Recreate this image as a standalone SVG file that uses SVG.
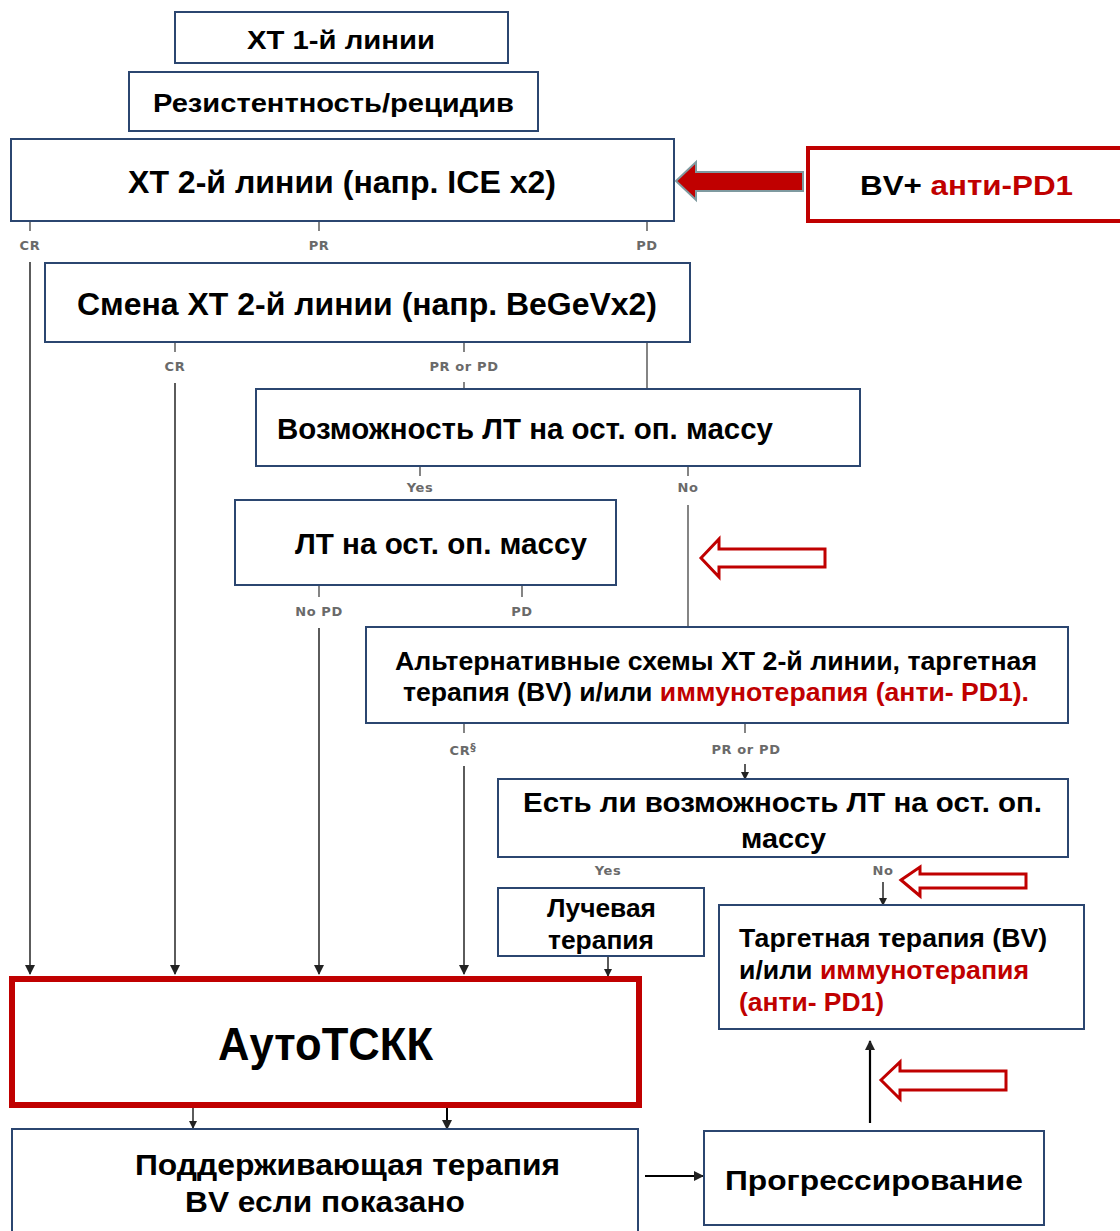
<svg xmlns="http://www.w3.org/2000/svg" width="1120" height="1231" viewBox="0 0 1120 1231">
<style>
.box{fill:#fff;stroke:#2b4670;stroke-width:2}
.t{font-family:"Liberation Sans",Arial,sans-serif;font-weight:bold;fill:#000}
.n{font-family:"Liberation Sans Narrow","Liberation Sans",Arial,sans-serif;font-weight:bold;fill:#000}
.red{fill:#c00000}
.lbl{font-family:"DejaVu Sans","Liberation Sans",sans-serif;font-weight:bold;font-size:13px;letter-spacing:0.6px;fill:#6a6a6a;text-anchor:middle}
.ln{stroke:#666;stroke-width:1.6;fill:none}
.ar{stroke:#333;stroke-width:1.6;fill:none}
.hollow{fill:#fff;stroke:#c00000;stroke-width:3}
</style>
<defs>
<marker id="ah" markerWidth="10" markerHeight="10" refX="9" refY="5" orient="auto" markerUnits="userSpaceOnUse">
<path d="M0,0 L10,5 L0,10 z" fill="#222"/>
</marker>
<marker id="ahs" markerWidth="8" markerHeight="8" refX="7" refY="4" orient="auto" markerUnits="userSpaceOnUse">
<path d="M0,0 L8,4 L0,8 z" fill="#222"/>
</marker>
</defs>
<rect width="1120" height="1231" fill="#fff"/>

<g id="connectors">
<line class="ln" x1="30" y1="222" x2="30" y2="231"/>
<line class="ln" x1="319" y1="222" x2="319" y2="231"/>
<line class="ln" x1="647" y1="222" x2="647" y2="231"/>
<line class="ar" x1="30" y1="262" x2="30" y2="974" marker-end="url(#ah)"/>
<line class="ln" x1="175" y1="343" x2="175" y2="352"/>
<line class="ln" x1="464" y1="343" x2="464" y2="352"/>
<line class="ln" x1="647" y1="343" x2="647" y2="389"/>
<line class="ar" x1="175" y1="383" x2="175" y2="974" marker-end="url(#ah)"/>
<line class="ln" x1="464" y1="382" x2="464" y2="389"/>
<line class="ln" x1="420" y1="467" x2="420" y2="476"/>
<line class="ln" x1="688" y1="467" x2="688" y2="476"/>
<line class="ln" x1="688" y1="505" x2="688" y2="627"/>
<line class="ln" x1="319" y1="586" x2="319" y2="597"/>
<line class="ln" x1="522" y1="586" x2="522" y2="597"/>
<line class="ar" x1="319" y1="628" x2="319" y2="974" marker-end="url(#ah)"/>
<line class="ln" x1="464" y1="724" x2="464" y2="733"/>
<line class="ln" x1="745" y1="724" x2="745" y2="733"/>
<line class="ar" x1="464" y1="766" x2="464" y2="974" marker-end="url(#ah)"/>
<line class="ar" x1="745" y1="764" x2="745" y2="779" marker-end="url(#ahs)"/>
<line class="ar" x1="883" y1="882" x2="883" y2="905" marker-end="url(#ahs)"/>
<line class="ar" x1="608" y1="957" x2="608" y2="976" marker-end="url(#ahs)"/>
<line class="ar" x1="193" y1="1108" x2="193" y2="1128" marker-end="url(#ahs)"/>
<line x1="447" y1="1108" x2="447" y2="1129" stroke="#000" stroke-width="2" marker-end="url(#ah)"/>
<line x1="645" y1="1176" x2="703" y2="1176" stroke="#000" stroke-width="2" marker-end="url(#ah)"/>
<line x1="870" y1="1123" x2="870" y2="1041" stroke="#000" stroke-width="2.2" marker-end="url(#ah)"/>
</g>

<g id="labels">
<text class="lbl" x="30" y="250">CR</text>
<text class="lbl" x="319" y="250">PR</text>
<text class="lbl" x="647" y="250">PD</text>
<text class="lbl" x="175" y="371">CR</text>
<text class="lbl" x="464" y="371">PR or PD</text>
<text class="lbl" x="420" y="492">Yes</text>
<text class="lbl" x="688" y="492">No</text>
<text class="lbl" x="319" y="616">No PD</text>
<text class="lbl" x="522" y="616">PD</text>
<text class="lbl" x="463" y="755">CR<tspan dy="-4" font-size="11">§</tspan></text>
<text class="lbl" x="746" y="754">PR or PD</text>
<text class="lbl" x="608" y="875">Yes</text>
<text class="lbl" x="883" y="875">No</text>
</g>

<g id="n-xt1">
<rect class="box" x="175" y="12" width="333" height="51"/>
<text class="t" x="341" y="49" font-size="26" text-anchor="middle" textLength="188" lengthAdjust="spacingAndGlyphs">ХТ 1-й линии</text>
</g>
<g id="n-resist">
<rect class="box" x="129" y="72" width="409" height="59"/>
<text class="t" x="333.5" y="112" font-size="26" text-anchor="middle" textLength="361" lengthAdjust="spacingAndGlyphs">Резистентность/рецидив</text>
</g>
<g id="n-xt2">
<rect class="box" x="11" y="139" width="663" height="82"/>
<text class="n" x="342" y="193" font-size="32" text-anchor="middle" textLength="428" lengthAdjust="spacingAndGlyphs">ХТ 2-й линии (напр. ICE x2)</text>
</g>
<g id="n-bvarrow">
<path d="M676,181 L696,162 L696,172 L803,172 L803,191 L696,191 L696,200 Z" fill="#c00000" stroke="#7f9aa0" stroke-width="2"/>
</g>
<g id="n-bv">
<rect x="808" y="148" width="320" height="73" fill="#fff" stroke="#c00000" stroke-width="4"/>
<text class="t" x="860" y="195" font-size="28" textLength="213" lengthAdjust="spacingAndGlyphs">BV+ <tspan class="red">анти-PD1</tspan></text>
</g>
<g id="n-change">
<rect class="box" x="45" y="263" width="645" height="79"/>
<text class="n" x="367" y="315" font-size="31" text-anchor="middle" textLength="580" lengthAdjust="spacingAndGlyphs">Смена ХТ 2-й линии (напр. BeGeVx2)</text>
</g>
<g id="n-rt-possible">
<rect class="box" x="256" y="389" width="604" height="77"/>
<text class="n" x="277" y="439" font-size="29" textLength="496" lengthAdjust="spacingAndGlyphs">Возможность ЛТ на ост. оп. массу</text>
</g>
<g id="n-rt">
<rect class="box" x="235" y="500" width="381" height="85"/>
<text class="n" x="295" y="554" font-size="29" textLength="292" lengthAdjust="spacingAndGlyphs">ЛТ на ост. оп. массу</text>
</g>
<g id="n-hollow1">
<path class="hollow" d="M701,558 L719,539 L719,549 L825,549 L825,567 L719,567 L719,577 Z"/>
</g>
<g id="n-alt">
<rect class="box" x="366" y="627" width="702" height="96"/>
<text class="n" x="716" y="670" font-size="25" text-anchor="middle" textLength="642" lengthAdjust="spacingAndGlyphs">Альтернативные схемы ХТ 2-й линии, таргетная</text>
<text class="n" x="403" y="701" font-size="25" textLength="626" lengthAdjust="spacingAndGlyphs">терапия (BV) и/или <tspan class="red">иммунотерапия (анти- PD1).</tspan></text>
</g>
<g id="n-rt-possible2">
<rect class="box" x="498" y="779" width="570" height="78"/>
<text class="n" x="782.5" y="812" font-size="28" text-anchor="middle" textLength="519" lengthAdjust="spacingAndGlyphs">Есть ли возможность ЛТ на ост. оп.</text>
<text class="n" x="783.5" y="848" font-size="28" text-anchor="middle" textLength="85" lengthAdjust="spacingAndGlyphs">массу</text>
</g>
<g id="n-hollow2">
<path class="hollow" d="M901,880 L920,867 L920,874 L1026,874 L1026,888 L920,888 L920,896 Z"/>
</g>
<g id="n-radio">
<rect class="box" x="498" y="888" width="206" height="68"/>
<text class="n" x="601.5" y="917" font-size="26" text-anchor="middle" textLength="109" lengthAdjust="spacingAndGlyphs">Лучевая</text>
<text class="n" x="601" y="949" font-size="26" text-anchor="middle" textLength="106" lengthAdjust="spacingAndGlyphs">терапия</text>
</g>
<g id="n-target">
<rect class="box" x="719" y="905" width="365" height="124"/>
<text class="n" x="739" y="947" font-size="25" textLength="308" lengthAdjust="spacingAndGlyphs">Таргетная терапия (BV)</text>
<text class="n" x="739" y="979" font-size="25" textLength="290" lengthAdjust="spacingAndGlyphs">и/или <tspan class="red">иммунотерапия</tspan></text>
<text class="n red" x="739" y="1011" font-size="25" textLength="145" lengthAdjust="spacingAndGlyphs">(анти- PD1)</text>
</g>
<g id="n-hollow3">
<path class="hollow" d="M881,1080 L900,1062 L900,1071 L1006,1071 L1006,1090 L900,1090 L900,1099 Z"/>
</g>
<g id="n-auto">
<rect x="12" y="979" width="627" height="126" fill="#fff" stroke="#c00000" stroke-width="6"/>
<text class="t" x="325.5" y="1060" font-size="46" text-anchor="middle" textLength="215" lengthAdjust="spacingAndGlyphs">АутоТСКК</text>
</g>
<g id="n-maint">
<rect class="box" x="12" y="1129" width="626" height="110"/>
<text class="n" x="347.5" y="1175" font-size="29" text-anchor="middle" textLength="425" lengthAdjust="spacingAndGlyphs">Поддерживающая терапия</text>
<text class="n" x="325" y="1212" font-size="29" text-anchor="middle" textLength="280" lengthAdjust="spacingAndGlyphs">BV если показано</text>
</g>
<g id="n-prog">
<rect class="box" x="704" y="1131" width="340" height="94"/>
<text class="t" x="874" y="1190" font-size="28" text-anchor="middle" textLength="298" lengthAdjust="spacingAndGlyphs">Прогрессирование</text>
</g>
</svg>
